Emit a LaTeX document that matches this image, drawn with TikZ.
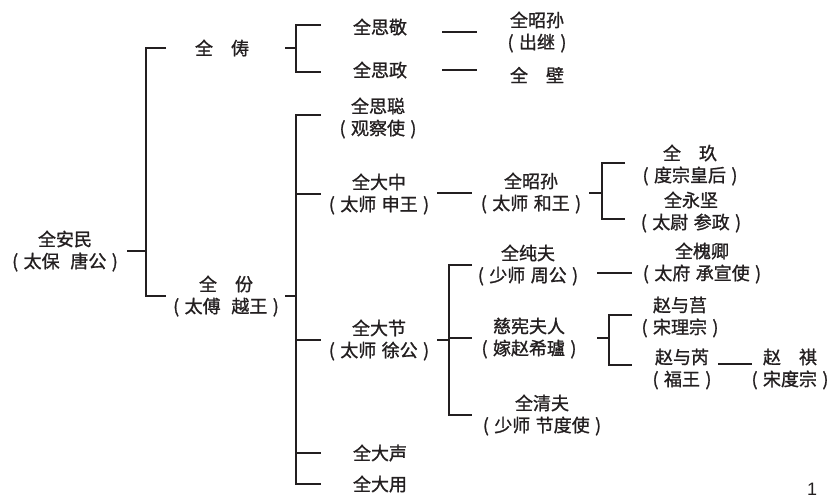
\documentclass[tikz,border=0pt]{standalone}
\usepackage{fontspec}
\usepackage{tikz}
\newfontfamily\cjk[FakeBold=1.2]{Noto Sans CJK SC}
\newfontfamily\pagefont{Liberation Sans}
\usetikzlibrary{positioning, calc}
\definecolor{inkgray}{RGB}{35,31,32}
\newcommand{\paren}[1]{(\hspace{.3em}#1\hspace{.3em})}

\begin{document}
\begin{tikzpicture}[
	x=1pt, y=-1pt,
	% --- ESTILOS ---
	person/.style={
		align=center, inner sep=0pt, text=inkgray,
		font=\cjk\fontsize{18}{22}\selectfont
	},
	line/.style={
		draw=inkgray, line width=1.9pt
	}
	]
	\useasboundingbox (0,0) rectangle (834,501);
	
	% ==========================================
	% 1. Columnas de los corchetes
	% ==========================================
	\coordinate (r0) at (127,0); \coordinate (r1) at (146,0); \coordinate (r2) at (166,0);
	\coordinate (f0) at (285,0); \coordinate (f1) at (296,0); \coordinate (f2) at (321,0);
	\coordinate (d0) at (442,0); \coordinate (d1) at (477,0);
	\coordinate (g0) at (437,0); \coordinate (g1) at (449,0); \coordinate (g2) at (472,0);
	\coordinate (z0) at (589,0); \coordinate (z1) at (602,0); \coordinate (z2) at (625,0);
	\coordinate (c0) at (597,0); \coordinate (c1) at (609,0); \coordinate (c2) at (632,0);
	\coordinate (y0) at (718,0); \coordinate (y1) at (752,0);
	
	% ==========================================
	% 2. Generaciones
	% ==========================================
	\node [person] (anmin) at (65,251) {全安民\\\paren{太保\hspace{.6em}唐公}};
	
	\node [person] (qchou) at (222,48) {全\quad 俦};
	\node [person] (qfen) at (226,296) {全\quad 份\\\paren{太傅\hspace{.6em}越王}};
	
	\node [person] (sijing) at (380,27) {全思敬};
	\node [person] (sizheng) at (380,70) {全思政};
	\node [person] (sicong) at (378,118) {全思聪\\\paren{观察使}};
	\node [person] (dazhong) at (379,194) {全大中\\\paren{太师\hspace{.3em}申王}};
	\node [person] (dajie) at (379,340) {全大节\\\paren{太师\hspace{.3em}徐公}};
	\node [person] (dasheng) at (380,453) {全大声};
	\node [person] (dayong) at (380,484) {全大用};
	
	\node [person] (zhaosunA) at (537,32) {全昭孙\\\paren{出继}};
	\node [person] (bi) at (537,75) {全\quad 壁};
	\node [person] (zhaosunB) at (531,193) {全昭孙\\\paren{太师\hspace{.3em}和王}};
	\node [person] (chunfu) at (528,265) {全纯夫\\\paren{少师\hspace{.3em}周公}};
	\node [person] (cixian) at (529,338) {慈宪夫人\\\paren{嫁赵希瓐}};
	\node [person] (qingfu) at (542,415) {全清夫\\\paren{少师\hspace{.3em}节度使}};
	
	\node [person] (jiu) at (690,165) {全\quad 玖\\\paren{度宗皇后}};
	\node [person] (yongjian) at (691,212) {全永坚\\\paren{太尉\hspace{.3em}参政}};
	\node [person] (huaiqing) at (702,263) {全槐卿\\\paren{太府\hspace{.3em}承宣使}};
	\node [person] (yuju) at (680,317) {赵与莒\\\paren{宋理宗}};
	\node [person] (yurui) at (682,369) {赵与芮\\\paren{福王}};
	\node [person] (qi) at (790,369) {赵\quad 祺\\\paren{宋度宗}};
	
	\node [person, font=\pagefont\fontsize{18}{18}\selectfont] (pageno) at (812,489) {1};
	
	% ==========================================
	% 3. Corchetes y enlaces
	% ==========================================
	% --- Raiz ---
	\draw [line] (anmin -| r0) -- (anmin -| r1);
	\draw [line] (qchou -| r2) -- (qchou -| r1) -- (qfen -| r1) -- (qfen -| r2);
	
	% --- Hijos de 全俦 ---
	\draw [line] (qchou -| f0) -- (qchou -| f1);
	\draw [line] ($(sijing -| f2)+(0,-2)$) -- ($(sijing -| f1)+(0,-2)$) -- ($(sizheng -| f1)+(0,2)$) -- ($(sizheng -| f2)+(0,2)$);
	\draw [line] (zhaosunA -| d0) -- (zhaosunA -| d1);
	\draw [line] (sizheng -| d0) -- (sizheng -| d1);
	
	% --- Hijos de 全份 ---
	\draw [line] (qfen -| f0) -- (qfen -| f1);
	\draw [line] ($(sicong -| f2)+(0,-3)$) -- ($(sicong -| f1)+(0,-3)$) -- (dayong -| f1) -- (dayong -| f2);
	\foreach \kid in {dazhong, dajie, dasheng}
		\draw [line] (\kid -| f1) -- (\kid -| f2);
	
	% --- 全大中 ---
	\draw [line] (zhaosunB -| g0) -- (zhaosunB -| g2);
	\draw [line] (zhaosunB -| z0) -- (zhaosunB -| z1);
	\draw [line] ($(jiu -| z2)+(0,-2)$) -- ($(jiu -| z1)+(0,-2)$) -- ($(yongjian -| z1)+(0,7)$) -- ($(yongjian -| z2)+(0,7)$);
	
	% --- 全大节 ---
	\draw [line] (dajie -| g0) -- (dajie -| g1);
	\draw [line] (chunfu -| g2) -- (chunfu -| g1) -- (qingfu -| g1) -- (qingfu -| g2);
	\draw [line] (cixian -| g1) -- (cixian -| g2);
	\draw [line] ($(chunfu -| c0)+(0,8)$) -- ($(huaiqing -| c2)+(0,10)$);
	
	% --- 慈宪夫人 ---
	\draw [line] (cixian -| c0) -- (cixian -| c1);
	\draw [line] ($(yuju -| c2)+(0,-2)$) -- ($(yuju -| c1)+(0,-2)$) -- ($(yurui -| c1)+(0,-4)$) -- ($(yurui -| c2)+(0,-4)$);
	\draw [line] ($(yurui -| y0)+(0,-5)$) -- ($(qi -| y1)+(0,-5)$);
\end{tikzpicture}
\end{document}
